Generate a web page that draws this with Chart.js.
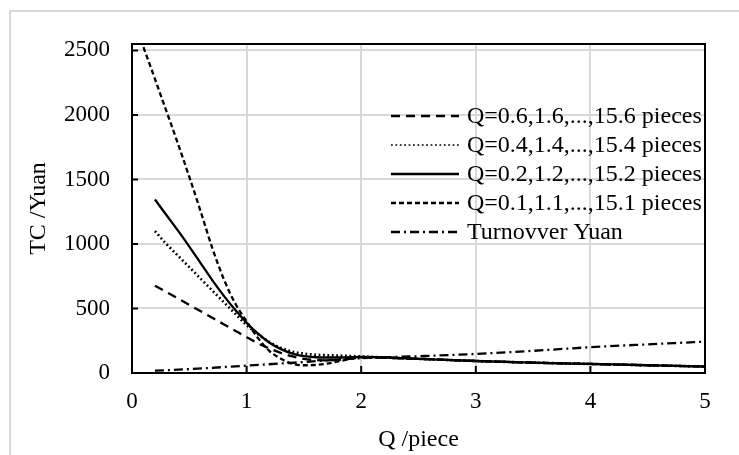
<!DOCTYPE html>
<html>
<head>
<meta charset="utf-8">
<script src="https://cdn.jsdelivr.net/npm/chart.js@4.4.1/dist/chart.umd.min.js"></script>
<style>
  html, body { margin: 0; padding: 0; background: #fff; }
  #wrap { width: 739px; height: 455px; }
</style>
</head>
<body>
<div id="wrap"><canvas id="c" width="739" height="455"></canvas></div>
<script>
// x values (Q /piece)
const xHead01 = [0.1];
const xMain = [0.2, 0.3, 0.4, 0.5, 0.6, 0.7, 0.8, 0.9, 1.0, 1.1, 1.2, 1.3, 1.4, 1.5, 1.6, 1.7, 1.8, 1.9, 2.0];
const xTail = [2.5, 3.0, 3.5, 4.0, 4.5, 5.0];

// TC values (Yuan)
const tc06 = [676, 628, 578, 528, 478, 428, 378, 328, 278, 230, 190, 155, 128, 110, 100, 98, 102, 110, 120];
const tc04 = [1100, 1000, 910, 820, 730, 640, 550, 460, 370, 300, 240, 195, 165, 150, 142, 138, 135, 132, 128];
const tc02 = [1345, 1225, 1105, 980, 850, 720, 600, 490, 390, 305, 235, 185, 150, 130, 122, 120, 120, 122, 125];
const tc01 = [2525, 2280, 2030, 1780, 1520, 1250, 970, 730, 540, 400, 270, 170, 110, 72, 60, 62, 72, 90, 108, 122];
const tcTail = [110, 93, 80, 70, 60, 50];

const xTurnover = [0.2, 0.5, 1.0, 1.5, 2.0, 2.5, 3.0, 3.5, 4.0, 4.5, 5.0];
const turnover = [18, 30, 57, 85, 115, 130, 148, 172, 200, 222, 243];

const labels = [
  'Q=0.6,1.6,...,15.6 pieces',
  'Q=0.4,1.4,...,15.4 pieces',
  'Q=0.2,1.2,...,15.2 pieces',
  'Q=0.1,1.1,...,15.1 pieces',
  'Turnovver Yuan'
];
const yTicks = [0, 500, 1000, 1500, 2000, 2500];

function pts(xs, ys) {
  return xs.map((x, i) => ({ x: x, y: ys[i] }));
}

const FONT = '"Liberation Serif", "Times New Roman", serif';

function line(label, data, dash, width) {
  return {
    label: label,
    data: data,
    showLine: true,
    borderColor: '#000',
    backgroundColor: '#000',
    borderWidth: width || 2.3,
    borderDash: dash,
    pointRadius: 0,
    pointHoverRadius: 0,
    cubicInterpolationMode: 'monotone'
  };
}

// frame, inner ticks, plot border and legend drawn over the chart
const decor = {
  id: 'decor',
  beforeDraw(chart) {
    const ctx = chart.ctx;
    ctx.save();
    ctx.strokeStyle = '#d9d9d9';
    ctx.lineWidth = 2;
    ctx.beginPath();
    ctx.moveTo(10, 460);
    ctx.lineTo(10, 11);
    ctx.lineTo(745, 11);
    ctx.stroke();
    ctx.restore();
  },
  afterDatasetsDraw(chart) {
    const ctx = chart.ctx;
    const a = chart.chartArea;
    const xs = chart.scales.x, ys = chart.scales.y;
    ctx.save();
    ctx.strokeStyle = '#000';
    ctx.lineWidth = 2;
    ctx.strokeRect(a.left, a.top, a.right - a.left, a.bottom - a.top);
    ctx.beginPath();
    xs.ticks.forEach(t => {
      const px = xs.getPixelForValue(t.value);
      ctx.moveTo(px, a.bottom);
      ctx.lineTo(px, a.bottom - 7);
    });
    ys.ticks.forEach(t => {
      const py = ys.getPixelForValue(t.value);
      ctx.moveTo(a.left, py);
      ctx.lineTo(a.left + 6, py);
    });
    ctx.stroke();

    // legend
    ctx.font = '24px ' + FONT;
    ctx.textBaseline = 'middle';
    ctx.fillStyle = '#000';
    chart.data.datasets.forEach((ds, i) => {
      const y = 116 + i * 29;
      ctx.setLineDash(ds.borderDash || []);
      ctx.lineWidth = ds.label === labels[1] ? 1.6 : ds.borderWidth;
      ctx.beginPath();
      ctx.moveTo(391, y);
      ctx.lineTo(459, y);
      ctx.stroke();
      ctx.setLineDash([]);
      ctx.fillText(ds.label, 467, y + 1);
    });
    ctx.restore();
  }
};

new Chart(document.getElementById('c'), {
  type: 'scatter',
  data: {
    datasets: [
      line(labels[0], pts(xMain.concat(xTail), tc06.concat(tcTail)), [9, 6]),
      line(labels[1], pts(xMain.concat(xTail), tc04.concat(tcTail)), [1.8, 2.6], 2.6),
      line(labels[2], pts(xMain.concat(xTail), tc02.concat(tcTail)), []),
      line(labels[3], pts(xHead01.concat(xMain, xTail), tc01.concat(tcTail)), [5, 3]),
      line(labels[4], pts(xTurnover, turnover), [9, 4, 2, 4])
    ]
  },
  options: {
    responsive: false,
    animation: false,
    layout: { padding: { left: 0, top: 44, right: 34, bottom: 0 } },
    plugins: {
      legend: { display: false },
      tooltip: { enabled: false }
    },
    scales: {
      x: {
        type: 'linear',
        min: 0,
        max: 5,
        ticks: { stepSize: 1, padding: 15, color: '#000', font: { family: FONT, size: 23 } },
        grid: { color: '#d9d9d9', lineWidth: 2, drawTicks: false },
        border: { display: false },
        title: { display: true, text: 'Q /piece', color: '#000', font: { family: FONT, size: 24 }, padding: { top: 0, bottom: 1 } },
        afterFit(scale) { scale.height = 82; }
      },
      y: {
        min: 0,
        max: 2550,
        ticks: {
          stepSize: 500,
          includeBounds: false,
          padding: 22,
          color: '#000',
          font: { family: FONT, size: 23 },
          callback: v => String(v)
        },
        afterBuildTicks(scale) { scale.ticks = yTicks.map(v => ({ value: v })); },
        grid: { color: '#d9d9d9', lineWidth: 2, drawTicks: false },
        border: { display: false },
        title: { display: true, text: 'TC /Yuan', color: '#000', font: { family: FONT, size: 24 }, padding: { top: 24, bottom: 0 } },
        afterFit(scale) { scale.width = 132; }
      }
    }
  },
  plugins: [decor]
});
</script>
</body>
</html>
